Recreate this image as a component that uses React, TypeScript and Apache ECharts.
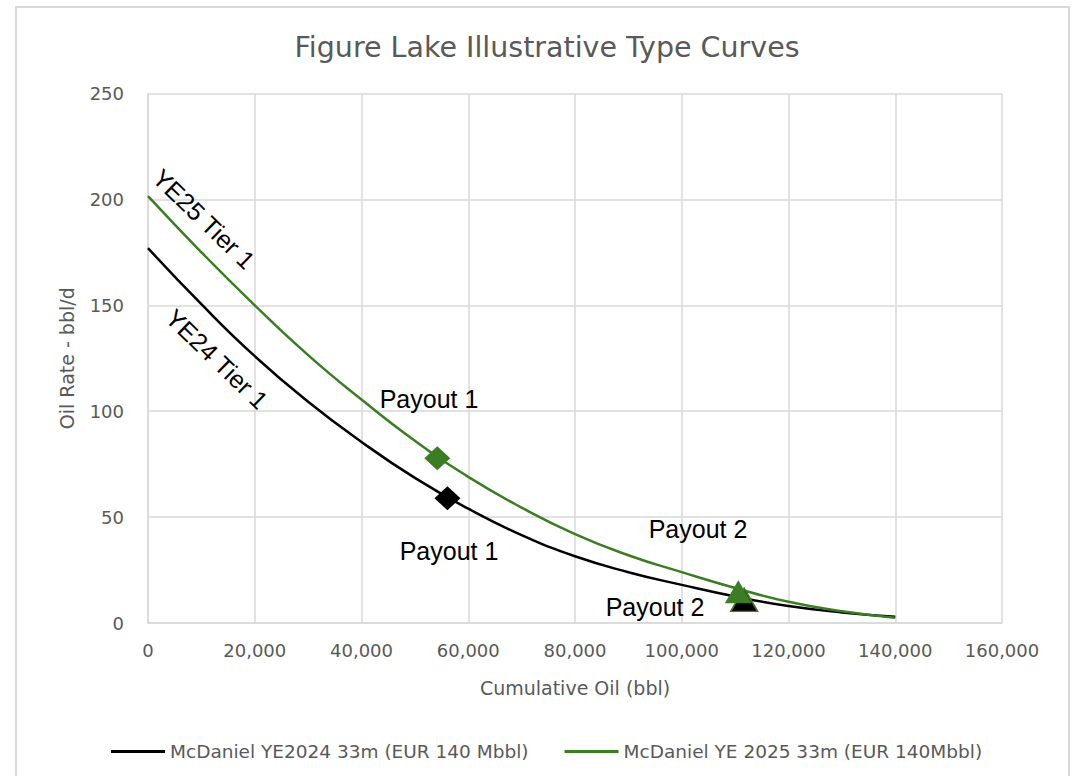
import React, { useEffect, useRef } from "react";
import * as echarts from "echarts";

// ---- Data ----
const cumulativeOil = [0, 10000, 20000, 30000, 40000, 50000, 60000, 70000, 80000, 90000, 100000, 110000, 120000, 130000, 140000];
const ye2024Rate = [177, 150.5, 126, 104.5, 85.5, 68.5, 54, 41.5, 31.5, 24, 18, 12.5, 8, 5, 3];
const ye2025Rate = [201.5, 175, 150, 126.5, 105.5, 86, 69, 54.5, 42, 32, 24, 16.5, 10, 5.5, 2.5];

const payout1YE24: [number, number] = [56100, 58.9];
const payout1YE25: [number, number] = [54200, 77.8];
const payout2YE24: [number, number] = [111700, 10.9];
const payout2YE25: [number, number] = [110600, 14.8];

const seriesNames = ["McDaniel YE2024 33m (EUR 140 Mbbl)", "McDaniel YE 2025 33m (EUR 140Mbbl)"];
const titleText = "Figure Lake Illustrative Type Curves";
const xAxisName = "Cumulative Oil (bbl)";
const yAxisName = "Oil Rate - bbl/d";

const GRAY = "#595959";
const GRID = "#d9d9d9";
const GREEN = "#3A7D22";
const BASE_FONT = "'DejaVu Sans', sans-serif";
const ARIAL = "'Liberation Sans', Arial, sans-serif";

export default function App() {
  const ref = useRef<HTMLDivElement>(null);

  useEffect(() => {
    document.body.style.margin = "0";
    const chart = echarts.init(ref.current!, null, { renderer: "svg" });
    const pair = (xs: number[], ys: number[]) => xs.map((x, i) => [x, ys[i]]);

    const annot = (text: string, x: number, y: number, rotation = 0) => ({
      type: "text",
      x,
      y,
      rotation,
      z: 100,
      style: {
        text,
        fill: "#000",
        font: `25px ${ARIAL}`,
        align: "center",
        verticalAlign: "middle",
      },
    });

    chart.setOption({
      animation: false,
      backgroundColor: "#fff",
      title: {
        text: titleText,
        left: 542,
        textAlign: "center",
        top: 28,
        textStyle: { fontFamily: BASE_FONT, fontSize: 28.5, fontWeight: "normal", color: GRAY },
      },
      grid: { left: 148, right: 70, top: 93.5, bottom: 153 },
      legend: {
        data: seriesNames,
        left: 106,
        top: 737,
        icon: "rect",
        itemWidth: 54,
        itemHeight: 3,
        itemGap: 36,
        textStyle: { fontFamily: BASE_FONT, fontSize: 18.5, color: GRAY },
      },
      xAxis: {
        type: "value",
        min: 0,
        max: 160000,
        interval: 20000,
        name: xAxisName,
        nameLocation: "middle",
        nameGap: 55,
        nameTextStyle: { fontFamily: BASE_FONT, fontSize: 19, color: GRAY },
        axisLine: { show: true, lineStyle: { color: GRID, width: 1.5 } },
        axisTick: { show: false },
        axisLabel: {
          margin: 18,
          fontFamily: BASE_FONT,
          fontSize: 18,
          color: GRAY,
          formatter: (v: number) => v.toLocaleString("en-US"),
        },
        splitLine: { show: true, lineStyle: { color: GRID, width: 1.5 } },
      },
      yAxis: {
        type: "value",
        min: 0,
        max: 250,
        interval: 50,
        name: yAxisName,
        nameLocation: "middle",
        nameGap: 72,
        nameTextStyle: { fontFamily: BASE_FONT, fontSize: 19, color: GRAY },
        axisLine: { show: true, lineStyle: { color: GRID, width: 1.5 } },
        axisTick: { show: false },
        axisLabel: { margin: 24, fontFamily: BASE_FONT, fontSize: 18, color: GRAY },
        splitLine: { show: true, lineStyle: { color: GRID, width: 1.5 } },
      },
      series: [
        {
          name: seriesNames[0],
          type: "line",
          data: pair(cumulativeOil, ye2024Rate),
          smooth: 0.5,
          showSymbol: false,
          lineStyle: { color: "#000", width: 2.5 },
          itemStyle: { color: "#000" },
          z: 2,
        },
        {
          name: seriesNames[1],
          type: "line",
          data: pair(cumulativeOil, ye2025Rate),
          smooth: 0.5,
          showSymbol: false,
          lineStyle: { color: GREEN, width: 2.5 },
          itemStyle: { color: GREEN },
          z: 3,
        },
        {
          type: "scatter",
          data: [payout1YE24],
          symbol: "diamond",
          symbolSize: [26, 24],
          itemStyle: { color: "#000", opacity: 1 },
          z: 4,
        },
        {
          type: "scatter",
          data: [payout1YE25],
          symbol: "diamond",
          symbolSize: [26, 24],
          itemStyle: { color: GREEN, opacity: 1 },
          z: 4,
        },
        {
          type: "scatter",
          data: [payout2YE24],
          symbol: "triangle",
          symbolSize: [27, 23],
          itemStyle: { color: "#000", borderColor: GREEN, borderWidth: 1.5, opacity: 1 },
          z: 4,
        },
        {
          type: "scatter",
          data: [payout2YE25],
          symbol: "triangle",
          symbolSize: [27, 23],
          itemStyle: { color: GREEN, opacity: 1 },
          z: 5,
        },
      ],
      graphic: [
        {
          type: "rect",
          shape: { x: 16, y: 7, width: 1053, height: 790 },
          style: { fill: "none", stroke: GRID, lineWidth: 2 },
          z: -1,
          silent: true,
        },
        annot("YE25 Tier 1", 204, 219, -0.77),
        annot("YE24 Tier 1", 217, 359, -0.77),
        annot("Payout 1", 429, 399),
        annot("Payout 1", 449, 551),
        annot("Payout 2", 698, 529),
        annot("Payout 2", 655, 607),
      ],
    });
    return () => chart.dispose();
  }, []);

  return <div ref={ref} style={{ width: 1072, height: 776 }} />;
}
